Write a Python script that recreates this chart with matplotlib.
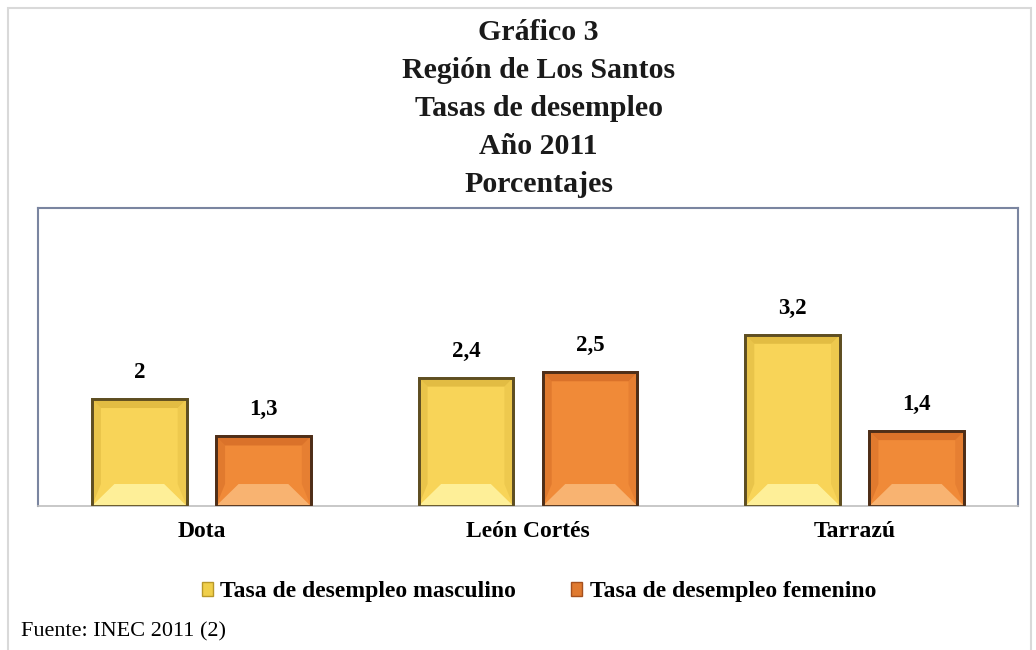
import matplotlib.pyplot as plt
from matplotlib.patches import Polygon, Rectangle
import numpy as np

# data
categories = ["Dota", "León Cortés", "Tarrazú"]
masculino = [2.0, 2.4, 3.2]
femenino = [1.3, 2.5, 1.4]
labels_m = ["2", "2,4", "3,2"]
labels_f = ["1,3", "2,5", "1,4"]
series_names = ["Tasa de desempleo masculino", "Tasa de desempleo femenino"]

plt.rcParams['font.family'] = ['Liberation Serif', 'DejaVu Serif']

fig = plt.figure(figsize=(10.36, 6.5), dpi=100)

# outer light frame
fig.add_artist(Rectangle((0.008, -0.01), 0.987, 0.998, transform=fig.transFigure,
                         fill=False, edgecolor="#d9d9d9", linewidth=1.5))

titles = ["Gráfico 3", "Región de Los Santos", "Tasas de desempleo", "Año 2011", "Porcentajes"]
for i, t in enumerate(titles):
    fig.text(0.52, 1 - (33 + 38 * i) / 650, t, ha="center", va="center",
             fontsize=21.5, fontweight="bold", color="#1a1a1a")

ax = fig.add_axes([0.0367, 0.2215, 0.946, 0.4585])
ax.set_xlim(-0.5, 2.5)
ax.set_ylim(0, 5.57)

x = np.arange(len(categories))
w = 0.29
off = 0.19

# pixel -> data scale, used for the bevel effect
px_x = 3.0 / 980
px_y = 5.57 / 298


def bevel_bar(xc, h, face, light, dark, edge):
    x0 = xc - w / 2
    x1 = xc + w / 2
    ax.add_patch(Rectangle((x0, 0), w, h, facecolor=face, edgecolor=edge, linewidth=2, zorder=2))
    b = 9 * px_x
    bh = 9 * px_y
    bb = min(22 * px_y, h * 0.35)
    # top bevel (darker)
    ax.add_patch(Polygon([(x0, h), (x1, h), (x1 - b, h - bh), (x0 + b, h - bh)],
                         closed=True, facecolor=dark, edgecolor="none", alpha=0.45, zorder=3))
    # left bevel
    ax.add_patch(Polygon([(x0, 0), (x0 + b, bb), (x0 + b, h - bh), (x0, h)],
                         closed=True, facecolor=dark, edgecolor="none", alpha=0.3, zorder=3))
    # right bevel
    ax.add_patch(Polygon([(x1, 0), (x1 - b, bb), (x1 - b, h - bh), (x1, h)],
                         closed=True, facecolor=dark, edgecolor="none", alpha=0.2, zorder=3))
    # bottom bevel (lighter)
    ax.add_patch(Polygon([(x0, 0), (x1, 0), (x1 - b * 2.5, bb), (x0 + b * 2.5, bb)],
                         closed=True, facecolor=light, edgecolor="none", alpha=0.9, zorder=3))
    ax.add_patch(Rectangle((x0, 0), w, h, fill=False, edgecolor=edge, linewidth=2, zorder=4))


for i in range(len(categories)):
    bevel_bar(x[i] - off, masculino[i], "#f8d458", "#fff3a0", "#c9a02a", "#5e4e22")
    bevel_bar(x[i] + off, femenino[i], "#f08a38", "#f9b878", "#c0561a", "#4e2e18")
    ax.text(x[i] - off, masculino[i] + 0.3, labels_m[i], ha="center", va="bottom",
            fontsize=16.5, fontweight="bold")
    ax.text(x[i] + off, femenino[i] + 0.3, labels_f[i], ha="center", va="bottom",
            fontsize=16.5, fontweight="bold")

ax.set_xticks(x)
ax.set_xticklabels(categories, fontsize=17, fontweight="bold")
ax.tick_params(axis="x", length=0, pad=11)
ax.set_yticks([])
for side in ["top", "left", "right"]:
    ax.spines[side].set_color("#7a85a0")
    ax.spines[side].set_linewidth(1.5)
ax.spines["bottom"].set_color("#bfbfbf")
ax.spines["bottom"].set_linewidth(1.2)

# legend
h1 = Rectangle((0, 0), 1, 1, facecolor="#f0cf4a", edgecolor="#b8982a")
h2 = Rectangle((0, 0), 1, 1, facecolor="#e07a30", edgecolor="#a5501e")
fig.legend([h1, h2], series_names, loc="center", bbox_to_anchor=(0.52, 1 - 592 / 650),
           ncol=2, frameon=False, handlelength=0.5, handleheight=0.5, handletextpad=0.3,
           columnspacing=2.3, prop={"size": 17, "weight": "bold"})

fig.text(0.02, 1 - 632 / 650, "Fuente: INEC 2011 (2)", ha="left", va="center", fontsize=16)

fig.savefig("out.png", dpi=100)
